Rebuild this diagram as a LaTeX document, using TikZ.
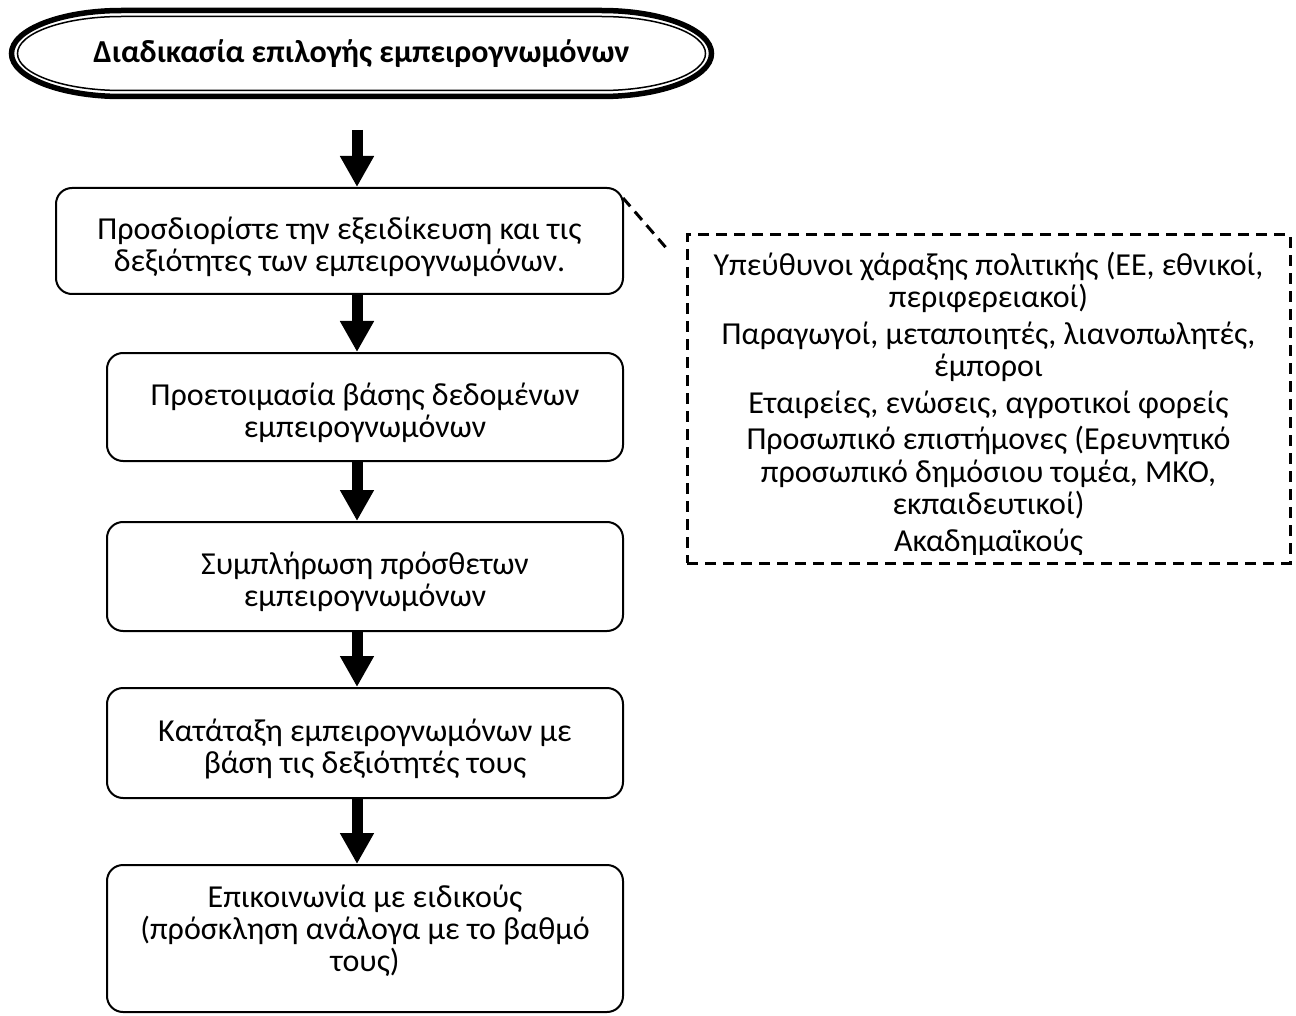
\documentclass[tikz,border=0pt]{standalone}
\usepackage{fontspec}
\setmainfont{Carlito}
\usetikzlibrary{arrows.meta,calc}
\newcommand{\topstrut}{\rule{0pt}{34pt}}
\tikzset{
  box/.style={draw, line width=2pt, rounded corners=16pt, align=center, inner sep=0pt,
    font=\fontsize{32}{32}\selectfont},
  blockarrow/.style={line width=11pt, -{Triangle[length=31pt,width=32pt]}},
  dashline/.style={line width=3pt, dash pattern=on 11pt off 7pt},
}
\begin{document}
\begin{tikzpicture}[x=1pt,y=-1pt]
\useasboundingbox[fill=white] (0,0) rectangle (1296,1016);
% title shape
\draw[line width=5.5pt] (121.5,10.5) -- (601.5,10.5) .. controls (662.25,10.5) and (711.5,29.75) .. (711.5,53.5) .. controls (711.5,77.25) and (662.25,96.5) .. (601.5,96.5) -- (121.5,96.5) .. controls (60.75,96.5) and (11.5,77.25) .. (11.5,53.5) .. controls (11.5,29.75) and (60.75,10.5) .. (121.5,10.5) -- cycle;
\draw[line width=1.5pt] (121.5,16.5) -- (601.5,16.5) .. controls (658.9,16.5) and (705.5,33.1) .. (705.5,53.5) .. controls (705.5,73.9) and (658.9,90.5) .. (601.5,90.5) -- (121.5,90.5) .. controls (64.1,90.5) and (17.5,73.9) .. (17.5,53.5) .. controls (17.5,33.1) and (64.1,16.5) .. (121.5,16.5) -- cycle;
\node[font=\fontsize{32}{32}\selectfont\bfseries, minimum width=700pt, minimum height=86pt, inner sep=0pt] (title) at (361.5,53.5) {Διαδικασία επιλογής εμπειρογνωμόνων};

% boxes
\node[box, minimum width=567pt, minimum height=106pt] (b1) at (339.5,241) {\topstrut Προσδιορίστε την εξειδίκευση και τις\\δεξιότητες των εμπειρογνωμόνων.};
\node[box, minimum width=516pt, minimum height=108pt] (b2) at (365,407) {\topstrut Προετοιμασία βάσης δεδομένων\\εμπειρογνωμόνων};
\node[box, minimum width=516pt, minimum height=109pt] (b3) at (365,576.5) {\topstrut Συμπλήρωση πρόσθετων\\εμπειρογνωμόνων};
\node[box, minimum width=516pt, minimum height=110pt] (b4) at (365,743) {\topstrut Κατάταξη εμπειρογνωμόνων με\\βάση τις δεξιότητές τους};
\node[box, minimum width=516pt, minimum height=147pt] (b5) at (365,938.5) {Επικοινωνία με ειδικούς\\(πρόσκληση ανάλογα με το βαθμό\\τους)\\[-12pt]\mbox{}};

% arrows
\coordinate (a1s) at (357,130);
\draw[blockarrow] (a1s) -- (a1s |- b1.north);
\draw[blockarrow] (b1.south -| a1s) -- (b2.north -| a1s);
\draw[blockarrow] (b2.south -| a1s) -- (b3.north -| a1s);
\draw[blockarrow] (b3.south -| a1s) -- (b4.north -| a1s);
\draw[blockarrow] (b4.south -| a1s) -- (b5.north -| a1s);

% dashed box
\node[draw, dashline, minimum width=603pt, minimum height=328pt, inner sep=0pt] (dbox) at (988.5,399) {};
\begin{scope}
\clip (dbox.north west) rectangle ($(dbox.south east)+(0,-10)$);
\node[font=\fontsize{32}{32.5}\selectfont, align=center, anchor=base, inner sep=0pt] (dtext) at (988.5,551) {Υπεύθυνοι χάραξης πολιτικής (ΕΕ, εθνικοί,\\περιφερειακοί)\\[4pt]Παραγωγοί, μεταποιητές, λιανοπωλητές,\\έμποροι\\[4pt]Εταιρείες, ενώσεις, αγροτικοί φορείς\\[4pt]Προσωπικό επιστήμονες (Ερευνητικό\\προσωπικό δημόσιου τομέα, ΜΚΟ,\\εκπαιδευτικοί)\\[4pt]Ακαδημαϊκούς};
\end{scope}
\coordinate (dend) at (668,250);
\draw[dashline] ($(b1.north east)+(-1,11)$) -- (dend);
\end{tikzpicture}
\end{document}
